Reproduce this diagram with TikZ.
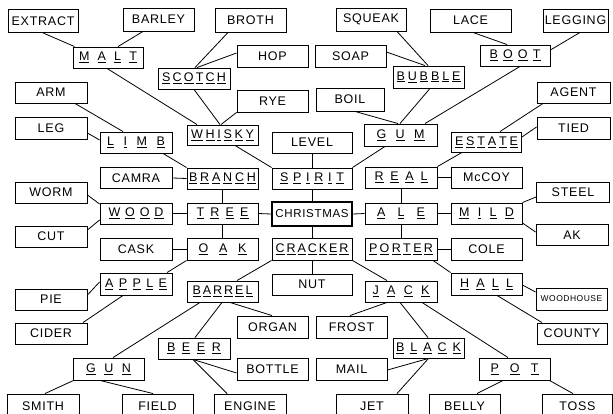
\documentclass[tikz,border=0pt]{standalone}
\usepackage{fontspec}
\setmainfont{Liberation Sans}[LetterSpace=6]
\makeatletter
\def\kwfirst#1{\underline{#1}\kwrest}
\def\kwrest#1{\ifx\relax#1\else\hfil\underline{#1}\expandafter\kwrest\fi}
\newcommand\kw[2]{\hbox to #1pt{\kwfirst#2\relax}}
\makeatother
\begin{document}
\begin{tikzpicture}[x=1pt,y=-1pt,
  bx/.style={draw, line width=0.9pt, minimum height=21pt, inner sep=0pt,
    font=\fontsize{12.5}{13}\selectfont},
  ln/.style={line width=0.8pt},
  xmas/.style={bx, line width=2.2pt, font=\fontsize{11.5}{12}\selectfont}]
\useasboundingbox (0,0) rectangle (613,414);
\clip (0,0) rectangle (613,414);
% row 1
\node[bx,minimum width=70pt,minimum height=23pt] (EXTRACT) at (43,21) {EXTRACT};
\node[bx,minimum width=71pt,minimum height=23pt] (BARLEY) at (158.5,19.5) {BARLEY};
\node[bx,minimum width=71pt,minimum height=24pt] (BROTH) at (250.5,20) {BROTH};
\node[bx,minimum width=70pt,minimum height=23pt] (SQUEAK) at (371,19.5) {SQUEAK};
\node[bx,minimum width=81pt,minimum height=23pt] (LACE) at (470.5,20.5) {LACE};
\node[bx,minimum width=65pt,minimum height=23pt] (LEGGING) at (575.5,20.5) {LEGGING};
% row 2
\node[bx,minimum width=70pt] (MALT) at (108,57.5) {\kw{58}{MALT}};
\node[bx,minimum width=71pt,minimum height=22pt] (HOP) at (272.5,56) {HOP};
\node[bx,minimum width=71pt,minimum height=22pt] (SOAP) at (350.5,56) {SOAP};
\node[bx,minimum width=70pt] (BOOT) at (515,55.5) {\kw{51}{BOOT}};
\node[bx,minimum width=72pt] (SCOTCH) at (194,78.5) {\kw{64}{SCOTCH}};
\node[bx,minimum width=71pt,minimum height=22pt] (BUBBLE) at (428.5,77) {\kw{64}{BUBBLE}};
% row 3
\node[bx,minimum width=72pt] (ARM) at (51,92.5) {ARM};
\node[bx,minimum width=71pt,minimum height=22pt] (RYE) at (272.5,101) {RYE};
\node[bx,minimum width=68pt,minimum height=23pt] (BOIL) at (350,99.5) {BOIL};
\node[bx,minimum width=73pt] (AGENT) at (573.5,92.5) {AGENT};
\node[bx,minimum width=72pt,minimum height=22pt] (LEG) at (51,128) {LEG};
\node[bx,minimum width=71pt,minimum height=20pt] (WHISKY) at (222.5,135) {\kw{63}{WHISKY}};
\node[bx,minimum width=73pt,minimum height=22pt] (GUM) at (400.5,135) {\kw{48}{GUM}};
\node[bx,minimum width=73pt,minimum height=22pt] (TIED) at (573.5,128) {TIED};
\node[bx,minimum width=72pt] (LIMB) at (136,142.5) {\kw{58}{LIMB}};
\node[bx,minimum width=80pt] (LEVEL) at (312,142.5) {LEVEL};
\node[bx,minimum width=70pt,minimum height=20pt] (ESTATE) at (486.5,142) {\kw{63}{ESTATE}};
% row 4
\node[bx,minimum width=72pt] (CAMRA) at (136,178) {CAMRA};
\node[bx,minimum width=71pt] (BRANCH) at (222.5,178.5) {\kw{67}{BRANCH}};
\node[bx,minimum width=80pt] (SPIRIT) at (312,178.5) {\kw{64}{SPIRIT}};
\node[bx,minimum width=72pt] (REAL) at (401,177.5) {\kw{53}{REAL}};
\node[bx,minimum width=71pt] (McCOY) at (486.5,177.5) {McCOY};
\node[bx,minimum width=73pt,minimum height=20pt] (STEEL) at (573,192) {STEEL};
\node[bx,minimum width=72pt] (WORM) at (51,192.5) {WORM};
% row 5
\node[bx,minimum width=72pt] (WOOD) at (136,213.5) {\kw{55}{WOOD}};
\node[bx,minimum width=71pt] (TREE) at (222.5,213.5) {\kw{52}{TREE}};
\node[xmas,minimum width=80pt,minimum height=24pt] (CHRISTMAS) at (312,214) {CHRISTMAS};
\node[bx,minimum width=72pt] (ALE) at (401,213.5) {\kw{48}{ALE}};
\node[bx,minimum width=71pt] (MILD) at (486.5,213.5) {\kw{55}{MILD}};
\node[bx,minimum width=72pt] (CUT) at (51,236.5) {CUT};
\node[bx,minimum width=72pt] (AK) at (572,235) {AK};
% row 6
\node[bx,minimum width=72pt,minimum height=22pt] (CASK) at (136,249) {CASK};
\node[bx,minimum width=71pt,minimum height=22pt] (OAK) at (222.5,249) {\kw{48}{OAK}};
\node[bx,minimum width=80pt,minimum height=22pt] (CRACKER) at (312,249) {\kw{73}{CRACKER}};
\node[bx,minimum width=72pt,minimum height=22pt] (PORTER) at (401,249) {\kw{64}{PORTER}};
\node[bx,minimum width=71pt,minimum height=22pt] (COLE) at (486.5,249) {COLE};
% row 7
\node[bx,minimum width=72pt,minimum height=22pt] (APPLE) at (136,284) {\kw{62}{APPLE}};
\node[bx,minimum width=71pt] (BARREL) at (222.5,291.5) {\kw{60}{BARREL}};
\node[bx,minimum width=80pt] (NUT) at (312,284.5) {NUT};
\node[bx,minimum width=72pt] (JACK) at (401,291.5) {\kw{57}{JACK}};
\node[bx,minimum width=71pt,minimum height=22pt] (HALL) at (486.5,284) {\kw{53}{HALL}};
\node[bx,minimum width=72pt] (PIE) at (51,299.5) {PIE};
\node[bx,minimum width=71pt,minimum height=22pt,font=\fontsize{8.5}{9}\selectfont] (WOODHOUSE) at (571.5,299) {WOODHOUSE};
% row 8
\node[bx,minimum width=72pt] (CIDER) at (51,333.5) {CIDER};
\node[bx,minimum width=71pt,minimum height=22pt] (ORGAN) at (272.5,327) {ORGAN};
\node[bx,minimum width=71pt,minimum height=22pt] (FROST) at (351.5,327) {FROST};
\node[bx,minimum width=70pt] (COUNTY) at (572,333.5) {COUNTY};
\node[bx,minimum width=72pt] (BEER) at (194,348.5) {\kw{54}{BEER}};
\node[bx,minimum width=71pt,minimum height=20pt] (BLACK) at (428.5,348) {\kw{65}{BLACK}};
% row 9
\node[bx,minimum width=71pt,minimum height=22pt] (GUN) at (108.5,369) {\kw{45}{GUN}};
\node[bx,minimum width=71pt,minimum height=22pt] (BOTTLE) at (272.5,369) {BOTTLE};
\node[bx,minimum width=71pt,minimum height=22pt] (MAIL) at (351.5,369) {MAIL};
\node[bx,minimum width=71pt,minimum height=22pt] (POT) at (514.5,369) {\kw{48}{POT}};
% row 10
\node[bx,minimum width=72pt,minimum height=24pt] (SMITH) at (43,406) {SMITH};
\node[bx,minimum width=71pt,minimum height=24pt] (FIELD) at (157.5,406) {FIELD};
\node[bx,minimum width=72pt,minimum height=24pt] (ENGINE) at (250,406) {ENGINE};
\node[bx,minimum width=72pt,minimum height=24pt] (JET) at (372,406) {JET};
\node[bx,minimum width=71pt,minimum height=24pt] (BELLY) at (464.5,406) {BELLY};
\node[bx,minimum width=70pt,minimum height=24pt] (TOSS) at (577.5,406) {TOSS};
% connectors
\draw[ln] (EXTRACT.south) -- ([xshift=2pt]MALT.north west);
\draw[ln] ([xshift=-15.5pt]BARLEY.south) -- ([xshift=10pt]MALT.north);
\draw[ln] ([xshift=-22.5pt]BROTH.south) -- ([xshift=1pt]SCOTCH.north);
\draw[ln] ([yshift=3pt]HOP.west) -- ([xshift=3pt]SCOTCH.north);
\draw[ln] ([xshift=-1pt]MALT.south) -- ([xshift=-25.5pt]WHISKY.north);
\draw[ln] (SCOTCH.south) -- ([xshift=-2.5pt]WHISKY.north);
\draw[ln] (RYE.south west) -- ([xshift=-1.5pt]WHISKY.north);
\draw[ln] ([xshift=24pt]ARM.south) -- ([xshift=-13pt]LIMB.north);
\draw[ln] ([yshift=-5pt]LEG.east) -- ([yshift=2.5pt]LIMB.west);
\draw[ln] ([xshift=27pt]LIMB.south) -- (BRANCH.north west);
\draw[ln] ([xshift=12.5pt]WHISKY.south) -- (SPIRIT.north west);
\draw[ln] (LEVEL.south) -- (SPIRIT.north);
\draw[ln] ([xshift=-15.5pt]GUM.south) -- (SPIRIT.north east);
\draw[ln] ([xshift=1.5pt]BUBBLE.south) -- ([xshift=-0.5pt]GUM.north);
\draw[ln] ([xshift=5pt]BOIL.south) -- ([xshift=-2.5pt]GUM.north);
\draw[ln] ([xshift=5pt]BOOT.south) -- ([xshift=24.5pt]GUM.north);
\draw[ln] ([xshift=26pt]SQUEAK.south) -- ([xshift=-0.5pt]BUBBLE.north);
\draw[ln] ([yshift=4pt]SOAP.east) -- ([xshift=-3.5pt]BUBBLE.north);
\draw[ln] ([xshift=2.5pt]LACE.south) -- ([xshift=-8pt]BOOT.north);
\draw[ln] ([xshift=4.5pt]LEGGING.south) -- ([yshift=5.5pt]BOOT.east);
\draw[ln] ([xshift=-30.5pt]AGENT.south) -- ([xshift=13.5pt]ESTATE.north);
\draw[ln] ([yshift=1pt]TIED.west) -- ([yshift=5pt]ESTATE.east);
\draw[ln] ([xshift=-24.5pt]ESTATE.south) -- (REAL.north east);
\draw[ln] (CAMRA.east) -- (BRANCH.west);
\draw[ln] (BRANCH.south) -- (TREE.north);
\draw[ln] (SPIRIT.south) -- (CHRISTMAS.north);
\draw[ln] (REAL.east) -- (McCOY.west);
\draw[ln] (REAL.south) -- (ALE.north);
\draw[ln] ([yshift=-2.5pt]WORM.east) -- ([yshift=9.5pt]WOOD.west);
\draw[ln] ([yshift=6.5pt]CUT.east) -- ([yshift=-6.5pt]WOOD.west);
\draw[ln] (WOOD.east) -- (TREE.west);
\draw[ln] (TREE.east) -- (CHRISTMAS.west);
\draw[ln] (CHRISTMAS.east) -- (ALE.west);
\draw[ln] (ALE.east) -- (MILD.west);
\draw[ln] ([yshift=-5pt]STEEL.west) -- (MILD.north east);
\draw[ln] ([yshift=-9.5pt]MILD.east) -- ([yshift=3pt]AK.west);
\draw[ln] (TREE.south) -- (OAK.north);
\draw[ln] (CHRISTMAS.south) -- (CRACKER.north);
\draw[ln] (ALE.south) -- (PORTER.north);
\draw[ln] (CASK.east) -- (OAK.west);
\draw[ln] (PORTER.east) -- (COLE.west);
\draw[ln] (OAK.south west) -- ([xshift=31pt]APPLE.north);
\draw[ln] (CRACKER.south west) -- ([xshift=14.5pt]BARREL.north);
\draw[ln] (CRACKER.south) -- (NUT.north);
\draw[ln] (CRACKER.south east) -- ([xshift=-14pt]JACK.north);
\draw[ln] ([xshift=32pt]PORTER.south) -- (HALL.north west);
\draw[ln] ([yshift=2pt]APPLE.west) -- ([yshift=4.5pt]PIE.east);
\draw[ln] ([xshift=-13pt]APPLE.south) -- ([xshift=32pt]CIDER.north);
\draw[ln] ([xshift=-22.5pt]BARREL.south) -- ([xshift=4.5pt]GUN.north);
\draw[ln] ([xshift=-0.5pt]BARREL.south) -- ([xshift=1pt]BEER.north);
\draw[ln] ([xshift=7.5pt]BARREL.south) -- ([xshift=-0.5pt]ORGAN.north);
\draw[ln] ([xshift=-1pt]BEER.south) -- ([yshift=-4pt]BOTTLE.west);
\draw[ln] ([xshift=-1pt]BEER.south) -- ([xshift=-23pt]ENGINE.north);
\draw[ln] ([xshift=1pt]GUN.south west) -- ([xshift=2pt]SMITH.north);
\draw[ln] ([xshift=-8.5pt]GUN.south) -- ([xshift=-4.5pt]FIELD.north);
\draw[ln] ([xshift=-14pt]JACK.south) -- ([xshift=-1.5pt]FROST.north);
\draw[ln] ([xshift=-1pt]JACK.south) -- ([xshift=-0.5pt]BLACK.north);
\draw[ln] ([xshift=21pt]JACK.south) -- ([xshift=-6.5pt]POT.north);
\draw[ln] ([xshift=10.5pt]HALL.south) -- ([xshift=-30pt]COUNTY.north);
\draw[ln] ([yshift=-1pt]HALL.east) -- ([yshift=7pt]WOODHOUSE.west);
\draw[ln] (BLACK.south) -- ([yshift=-1pt]MAIL.east);
\draw[ln] (BLACK.south) -- ([xshift=25pt]JET.north);
\draw[ln] ([xshift=-11.5pt]POT.south) -- ([xshift=12.5pt]BELLY.north);
\draw[ln] ([xshift=-1pt]POT.south east) -- ([xshift=-4.5pt]TOSS.north);
\end{tikzpicture}
\end{document}
